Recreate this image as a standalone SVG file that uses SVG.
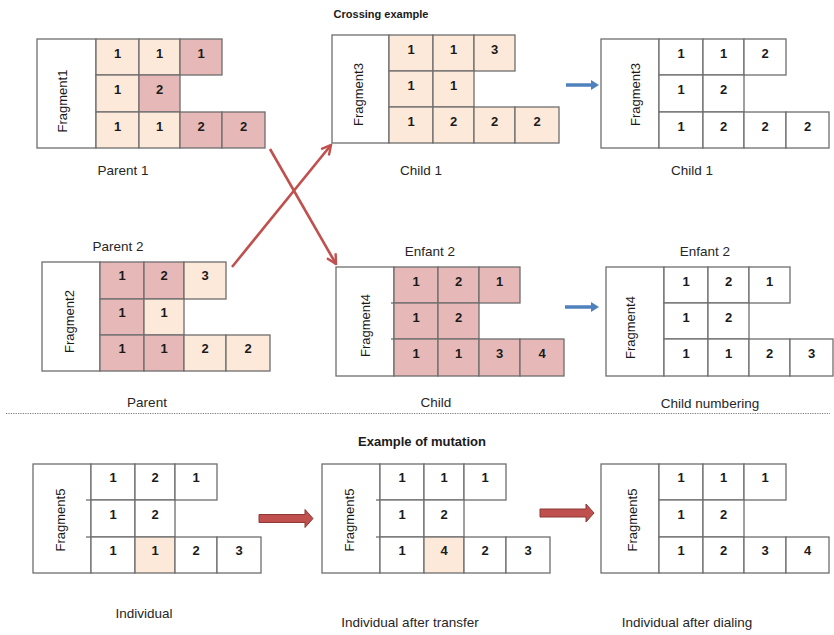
<svg xmlns="http://www.w3.org/2000/svg" width="834" height="635" viewBox="0 0 834 635">
  <defs>
    <style>
      .frame { fill: #ffffff; stroke: #6e6e6e; stroke-width: 1.3; }
      .w { fill: #ffffff; stroke: #6e6e6e; stroke-width: 1.3; }
      .pe { fill: #fde9d9; stroke: #6e6e6e; stroke-width: 1.3; }
      .pk { fill: #e6b9b8; stroke: #6e6e6e; stroke-width: 1.3; }
      .tick { stroke: #6e6e6e; stroke-width: 1.3; }
      .num { font-family: "Liberation Sans", Arial, sans-serif; font-size: 13px; font-weight: bold; fill: #1a1a1a; text-anchor: middle; }
      .frag { font-family: "Liberation Sans", Arial, sans-serif; font-size: 13px; fill: #1a1a1a; text-anchor: middle; }
      .lbl { font-family: "Liberation Sans", Arial, sans-serif; font-size: 13.5px; fill: #262626; text-anchor: middle; }
      .title { font-family: "Liberation Sans", Arial, sans-serif; font-weight: bold; fill: #1a1a1a; text-anchor: middle; }
      .cross { stroke: #c0504d; stroke-width: 2.6; fill: none; marker-end: url(#openhead); }
      .blue { stroke: #4f81bd; stroke-width: 3.5; fill: none; }
      .block { fill: #c0504d; stroke: #8c3836; stroke-width: 1; }
    </style>
    <marker id="openhead" viewBox="0 0 12 12" refX="10.5" refY="6" markerWidth="12" markerHeight="12" markerUnits="userSpaceOnUse" orient="auto">
      <path d="M1,1 L10.5,6 L1,11" fill="none" stroke="#c0504d" stroke-width="2.4" stroke-linejoin="miter"/>
    </marker>
  </defs>

  <rect width="834" height="635" fill="#ffffff"/>

  <!-- section titles -->
  <text class="title" x="381" y="18" font-size="11px">Crossing example</text>
  <text class="title" x="422" y="446" font-size="13px">Example of mutation</text>

  <!-- section separator -->
  <line x1="6" y1="413.5" x2="830" y2="413.5" stroke="#7a7a7a" stroke-width="1" stroke-dasharray="1.2 1.2"/>

  <!-- Parent 1 -->
  <g id="parent1">
    <rect class="frame" x="37" y="39" width="59" height="109"/>
    <text class="frag" transform="translate(66.5,101) rotate(-90)">Fragment1</text>
    <rect class="pe" x="96" y="39" width="43" height="36"/>
    <rect class="pe" x="139" y="39" width="41" height="36"/>
    <rect class="pk" x="180" y="39" width="42" height="36"/>
    <rect class="pe" x="96" y="75" width="43" height="37"/>
    <rect class="pk" x="139" y="75" width="41" height="37"/>
    <rect class="pe" x="96" y="112" width="43" height="36"/>
    <rect class="pe" x="139" y="112" width="41" height="36"/>
    <rect class="pk" x="180" y="112" width="42" height="36"/>
    <rect class="pk" x="222" y="112" width="43" height="36"/>
    <text class="num" x="117.5" y="58">1</text>
    <text class="num" x="159.5" y="58">1</text>
    <text class="num" x="201" y="58">1</text>
    <text class="num" x="117.5" y="94">1</text>
    <text class="num" x="159.5" y="94">2</text>
    <text class="num" x="117.5" y="131">1</text>
    <text class="num" x="159.5" y="131">1</text>
    <text class="num" x="201" y="131">2</text>
    <text class="num" x="243.5" y="131">2</text>
    <text class="lbl" x="123" y="175">Parent 1</text>
  </g>

  <!-- Child 1 (after crossing) -->
  <g id="child1">
    <rect class="frame" x="332" y="35" width="57" height="108"/>
    <text class="frag" transform="translate(362.5,94.5) rotate(-90)">Fragment3</text>
    <rect class="pe" x="389" y="35" width="44" height="36"/>
    <rect class="pe" x="433" y="35" width="41" height="36"/>
    <rect class="pe" x="474" y="35" width="41" height="36"/>
    <rect class="pe" x="389" y="71" width="44" height="36"/>
    <rect class="pe" x="433" y="71" width="41" height="36"/>
    <rect class="pe" x="389" y="107" width="44" height="36"/>
    <rect class="pe" x="433" y="107" width="41" height="36"/>
    <rect class="pe" x="474" y="107" width="41" height="36"/>
    <rect class="pe" x="515" y="107" width="44" height="36"/>
    <text class="num" x="411" y="54">1</text>
    <text class="num" x="453.5" y="54">1</text>
    <text class="num" x="494.5" y="54">3</text>
    <text class="num" x="411" y="90">1</text>
    <text class="num" x="453.5" y="90">1</text>
    <text class="num" x="411" y="126">1</text>
    <text class="num" x="453.5" y="126">2</text>
    <text class="num" x="494.5" y="126">2</text>
    <text class="num" x="537" y="126">2</text>
    <text class="lbl" x="421" y="175">Child 1</text>
  </g>

  <!-- Child 1 renumbered -->
  <g id="child1-numbered">
    <rect class="frame" x="601" y="39" width="58" height="109"/>
    <text class="frag" transform="translate(639.5,94.5) rotate(-90)">Fragment3</text>
    <rect class="w" x="659" y="39" width="44" height="36"/>
    <rect class="w" x="703" y="39" width="41" height="36"/>
    <rect class="w" x="744" y="39" width="42" height="36"/>
    <rect class="w" x="659" y="75" width="44" height="37"/>
    <rect class="w" x="703" y="75" width="41" height="37"/>
    <rect class="w" x="659" y="112" width="44" height="36"/>
    <rect class="w" x="703" y="112" width="41" height="36"/>
    <rect class="w" x="744" y="112" width="42" height="36"/>
    <rect class="w" x="786" y="112" width="43" height="36"/>
    <text class="num" x="681" y="58">1</text>
    <text class="num" x="723.5" y="58">1</text>
    <text class="num" x="765" y="58">2</text>
    <text class="num" x="681" y="94">1</text>
    <text class="num" x="723.5" y="94">2</text>
    <text class="num" x="681" y="131">1</text>
    <text class="num" x="723.5" y="131">2</text>
    <text class="num" x="765" y="131">2</text>
    <text class="num" x="807.5" y="131">2</text>
    <text class="lbl" x="692" y="175">Child 1</text>
  </g>

  <!-- Parent 2 -->
  <g id="parent2">
    <text class="lbl" x="118" y="251">Parent 2</text>
    <rect class="frame" x="42" y="262" width="58" height="109"/>
    <text class="frag" transform="translate(73.5,321.5) rotate(-90)">Fragment2</text>
    <rect class="pk" x="100" y="262" width="44" height="37"/>
    <rect class="pk" x="144" y="262" width="40" height="37"/>
    <rect class="pe" x="184" y="262" width="42" height="37"/>
    <rect class="pk" x="100" y="299" width="44" height="36"/>
    <rect class="pe" x="144" y="299" width="40" height="36"/>
    <rect class="pk" x="100" y="335" width="44" height="36"/>
    <rect class="pk" x="144" y="335" width="40" height="36"/>
    <rect class="pe" x="184" y="335" width="42" height="36"/>
    <rect class="pe" x="226" y="335" width="44" height="36"/>
    <text class="num" x="122" y="280">1</text>
    <text class="num" x="164" y="280">2</text>
    <text class="num" x="205" y="280">3</text>
    <text class="num" x="122" y="317">1</text>
    <text class="num" x="164" y="317">1</text>
    <text class="num" x="122" y="353">1</text>
    <text class="num" x="164" y="353">1</text>
    <text class="num" x="205" y="353">2</text>
    <text class="num" x="248" y="353">2</text>
    <text class="lbl" x="147" y="407">Parent</text>
  </g>

  <!-- Enfant 2 (after crossing) -->
  <g id="child2">
    <text class="lbl" x="430" y="256">Enfant 2</text>
    <rect class="frame" x="336" y="267" width="58" height="109"/>
    <line class="tick" x1="391" y1="303" x2="394" y2="303"/>
    <line class="tick" x1="391" y1="339" x2="394" y2="339"/>
    <text class="frag" transform="translate(369.5,325.5) rotate(-90)">Fragment4</text>
    <rect class="pk" x="394" y="267" width="44" height="36"/>
    <rect class="pk" x="438" y="267" width="41" height="36"/>
    <rect class="pk" x="479" y="267" width="41" height="36"/>
    <rect class="pk" x="394" y="303" width="44" height="36"/>
    <rect class="pk" x="438" y="303" width="41" height="36"/>
    <rect class="pk" x="394" y="339" width="44" height="37"/>
    <rect class="pk" x="438" y="339" width="41" height="37"/>
    <rect class="pk" x="479" y="339" width="41" height="37"/>
    <rect class="pk" x="520" y="339" width="44" height="37"/>
    <text class="num" x="416" y="285.5">1</text>
    <text class="num" x="458.5" y="285.5">2</text>
    <text class="num" x="499.5" y="285.5">1</text>
    <text class="num" x="416" y="321.5">1</text>
    <text class="num" x="458.5" y="321.5">2</text>
    <text class="num" x="416" y="357.5">1</text>
    <text class="num" x="458.5" y="357.5">1</text>
    <text class="num" x="499.5" y="357.5">3</text>
    <text class="num" x="542" y="357.5">4</text>
    <text class="lbl" x="436" y="407">Child</text>
  </g>

  <!-- Enfant 2 renumbered -->
  <g id="child2-numbered">
    <text class="lbl" x="705" y="256">Enfant 2</text>
    <rect class="frame" x="606" y="267" width="58" height="109"/>
    <text class="frag" transform="translate(634.5,327.5) rotate(-90)">Fragment4</text>
    <rect class="w" x="664" y="267" width="44" height="36"/>
    <rect class="w" x="708" y="267" width="41" height="36"/>
    <rect class="w" x="749" y="267" width="41" height="36"/>
    <rect class="w" x="664" y="303" width="44" height="36"/>
    <rect class="w" x="708" y="303" width="41" height="36"/>
    <rect class="w" x="664" y="339" width="44" height="37"/>
    <rect class="w" x="708" y="339" width="41" height="37"/>
    <rect class="w" x="749" y="339" width="41" height="37"/>
    <rect class="w" x="790" y="339" width="43" height="37"/>
    <text class="num" x="686" y="285.5">1</text>
    <text class="num" x="728.5" y="285.5">2</text>
    <text class="num" x="769.5" y="285.5">1</text>
    <text class="num" x="686" y="321.5">1</text>
    <text class="num" x="728.5" y="321.5">2</text>
    <text class="num" x="686" y="357.5">1</text>
    <text class="num" x="728.5" y="357.5">1</text>
    <text class="num" x="769.5" y="357.5">2</text>
    <text class="num" x="811.5" y="357.5">3</text>
    <text class="lbl" x="710" y="408">Child numbering</text>
  </g>

  <!-- Mutation: individual -->
  <g id="individual">
    <rect class="frame" x="33" y="464" width="58" height="109"/>
    <line class="tick" x1="86" y1="500" x2="91" y2="500"/>
    <line class="tick" x1="86" y1="537" x2="91" y2="537"/>
    <text class="frag" transform="translate(64.5,520) rotate(-90)">Fragment5</text>
    <rect class="w" x="91" y="464" width="44" height="36"/>
    <rect class="w" x="135" y="464" width="40" height="36"/>
    <rect class="w" x="175" y="464" width="42" height="36"/>
    <rect class="w" x="91" y="500" width="44" height="37"/>
    <rect class="w" x="135" y="500" width="40" height="37"/>
    <rect class="w" x="91" y="537" width="44" height="36"/>
    <rect class="pe" x="135" y="537" width="40" height="36"/>
    <rect class="w" x="175" y="537" width="42" height="36"/>
    <rect class="w" x="217" y="537" width="44" height="36"/>
    <text class="num" x="113" y="482">1</text>
    <text class="num" x="155" y="482">2</text>
    <text class="num" x="196" y="482">1</text>
    <text class="num" x="113" y="519">1</text>
    <text class="num" x="155" y="519">2</text>
    <text class="num" x="113" y="555">1</text>
    <text class="num" x="155" y="555">1</text>
    <text class="num" x="196" y="555">2</text>
    <text class="num" x="239" y="555">3</text>
    <text class="lbl" x="144" y="618">Individual</text>
  </g>

  <!-- Mutation: after transfer -->
  <g id="after-transfer">
    <rect class="frame" x="322" y="464" width="58" height="109"/>
    <line class="tick" x1="376" y1="500" x2="380" y2="500"/>
    <line class="tick" x1="376" y1="537" x2="380" y2="537"/>
    <text class="frag" transform="translate(353.5,520) rotate(-90)">Fragment5</text>
    <rect class="w" x="380" y="464" width="44" height="36"/>
    <rect class="w" x="424" y="464" width="40" height="36"/>
    <rect class="w" x="464" y="464" width="42" height="36"/>
    <rect class="w" x="380" y="500" width="44" height="37"/>
    <rect class="w" x="424" y="500" width="40" height="37"/>
    <rect class="w" x="380" y="537" width="44" height="36"/>
    <rect class="pe" x="424" y="537" width="40" height="36"/>
    <rect class="w" x="464" y="537" width="42" height="36"/>
    <rect class="w" x="506" y="537" width="44" height="36"/>
    <text class="num" x="402" y="482">1</text>
    <text class="num" x="444" y="482">1</text>
    <text class="num" x="485" y="482">1</text>
    <text class="num" x="402" y="519">1</text>
    <text class="num" x="444" y="519">2</text>
    <text class="num" x="402" y="555">1</text>
    <text class="num" x="444" y="555">4</text>
    <text class="num" x="485" y="555">2</text>
    <text class="num" x="528" y="555">3</text>
    <text class="lbl" x="410" y="627">Individual after transfer</text>
  </g>

  <!-- Mutation: after dialing -->
  <g id="after-dialing">
    <rect class="frame" x="601" y="464" width="58" height="109"/>
    <text class="frag" transform="translate(636.5,520) rotate(-90)">Fragment5</text>
    <rect class="w" x="659" y="464" width="44" height="36"/>
    <rect class="w" x="703" y="464" width="41" height="36"/>
    <rect class="w" x="744" y="464" width="42" height="36"/>
    <rect class="w" x="659" y="500" width="44" height="37"/>
    <rect class="w" x="703" y="500" width="41" height="37"/>
    <rect class="w" x="659" y="537" width="44" height="36"/>
    <rect class="w" x="703" y="537" width="41" height="36"/>
    <rect class="w" x="744" y="537" width="42" height="36"/>
    <rect class="w" x="786" y="537" width="43" height="36"/>
    <text class="num" x="681" y="482">1</text>
    <text class="num" x="723.5" y="482">1</text>
    <text class="num" x="765" y="482">1</text>
    <text class="num" x="681" y="519">1</text>
    <text class="num" x="723.5" y="519">2</text>
    <text class="num" x="681" y="555">1</text>
    <text class="num" x="723.5" y="555">2</text>
    <text class="num" x="765" y="555">3</text>
    <text class="num" x="807.5" y="555">4</text>
    <text class="lbl" x="687" y="627">Individual after dialing</text>
  </g>

  <!-- connectors -->
  <g id="connectors">
    <!-- crossing arrows -->
    <line class="cross" x1="270" y1="149" x2="336" y2="264"/>
    <line class="cross" x1="232" y1="267" x2="331" y2="145"/>
    <!-- renumbering arrows -->
    <line class="blue" x1="566" y1="85" x2="592" y2="85"/>
    <polygon points="591,80 599,85 591,90" fill="#4f81bd"/>
    <line class="blue" x1="565" y1="307" x2="592" y2="307"/>
    <polygon points="591,302 599,307 591,312" fill="#4f81bd"/>
    <!-- mutation step arrows -->
    <polygon class="block" points="259,514.5 305,514.5 305,509.5 313,518.5 305,527.5 305,522.5 259,522.5"/>
    <polygon class="block" points="540,509 586,509 586,504 594,513 586,522 586,517 540,517"/>
  </g>
</svg>
